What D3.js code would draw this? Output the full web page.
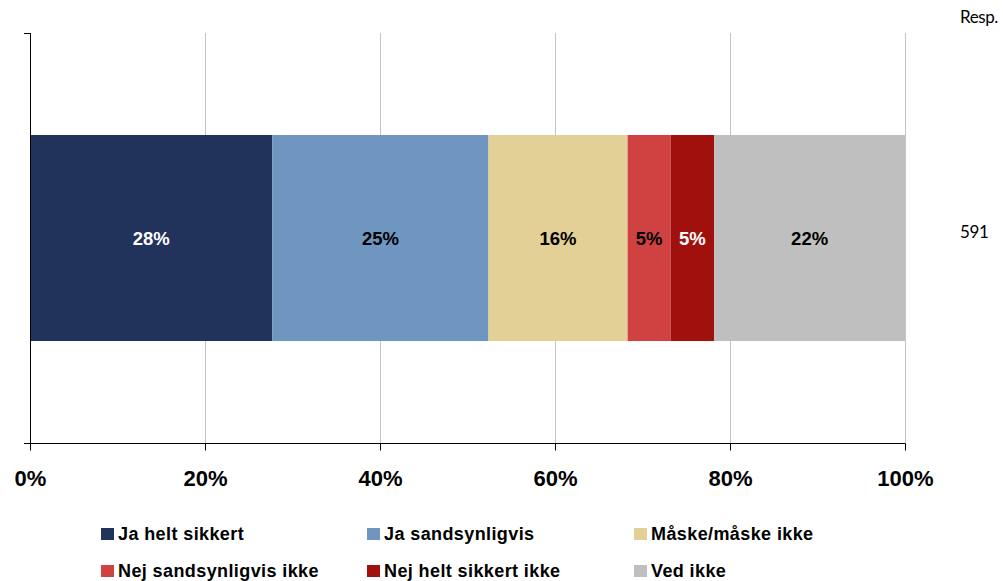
<!DOCTYPE html>
<html>
<head>
<meta charset="utf-8">
<script src="https://cdn.jsdelivr.net/npm/d3@7"></script>
<style>
  html, body { margin: 0; padding: 0; background: #fff; }
  svg { display: block; }
</style>
</head>
<body>
<svg id="chart" width="1003" height="581"></svg>
<script>
const categories = ["Ja helt sikkert", "Ja sandsynligvis", "Måske/måske ikke", "Nej sandsynligvis ikke", "Nej helt sikkert ikke", "Ved ikke"];
const values = [27.7, 24.7, 15.9, 4.9, 5.0, 21.8];
const valueLabels = ["28%", "25%", "16%", "5%", "5%", "22%"];
const colors = ["#21325B", "#6E96C0", "#E3D096", "#D04242", "#A0100C", "#BFBFBF"];
const labelColors = ["#ffffff", "#000000", "#000000", "#000000", "#ffffff", "#000000"];
const rows = [""];
const respCount = ["591"];
const xTicks = [0, 20, 40, 60, 80, 100];

const svg = d3.select("#chart");
const pLeft = 30, pRight = 905, pTop = 33, pBottom = 443;

const x = d3.scaleLinear().domain([0, 100]).range([pLeft, pRight]);
const y = d3.scaleBand().domain(rows).range([pTop, pBottom]).paddingOuter(0.495).paddingInner(0);

// gridlines
svg.append("g").selectAll("line").data(xTicks.slice(1)).join("line")
  .attr("x1", d => Math.round(x(d)) + 0.5).attr("x2", d => Math.round(x(d)) + 0.5)
  .attr("y1", pTop).attr("y2", pBottom)
  .attr("stroke", "#C4C4C4").attr("stroke-width", 1);

// stacked segments
let cum = 0;
const segs = values.map((v, i) => { const s = { i, x0: cum, x1: cum + v }; cum += v; return s; });

const g = svg.append("g");
rows.forEach(r => {
  g.selectAll("rect.seg").data(segs).join("rect").attr("class", "seg")
    .attr("x", d => x(d.x0)).attr("width", d => x(d.x1) - x(d.x0))
    .attr("y", y(r)).attr("height", y.bandwidth())
    .attr("fill", d => colors[d.i]);
  g.selectAll("text.lbl").data(segs).join("text").attr("class", "lbl")
    .attr("x", d => (x(d.x0) + x(d.x1)) / 2)
    .attr("y", y(r) + y.bandwidth() / 2)
    .attr("dy", "0.36em")
    .attr("text-anchor", "middle")
    .attr("font-family", "Liberation Sans, Arial, sans-serif")
    .attr("font-weight", "bold").attr("font-size", "18.5px")
    .attr("fill", d => labelColors[d.i])
    .text(d => valueLabels[d.i]);
  svg.append("text").attr("x", 960).attr("y", y(r) + y.bandwidth() / 2 - 6)
    .attr("dy", "0.36em")
    .attr("font-family", "Lato, sans-serif").attr("font-size", "17px").attr("fill", "#000")
    .attr("letter-spacing", "-0.3px")
    .text(respCount[0]);
});

// Resp. header
svg.append("text").attr("x", 960).attr("y", 23)
  .attr("font-family", "Lato, sans-serif").attr("font-size", "17px").attr("fill", "#000")
  .attr("letter-spacing", "-0.4px")
  .text("Resp.");

// x axis
const xAxis = d3.axisBottom(x).tickValues(xTicks).tickFormat(d => d + "%").tickSize(7).tickSizeOuter(0);
const xg = svg.append("g").attr("transform", `translate(0,${pBottom + 0.5})`).call(xAxis);
xg.select(".domain").remove();
xg.append("line").attr("x1", 24).attr("x2", pRight + 0.5).attr("y1", 0).attr("y2", 0).attr("stroke", "#000");
xg.selectAll(".tick line").attr("stroke", "#000");
xg.selectAll(".tick text")
  .attr("font-family", "Liberation Sans, Arial, sans-serif")
  .attr("font-weight", "bold").attr("font-size", "22px").attr("fill", "#000")
  .attr("y", 0).attr("dy", "42px");

// y axis (category axis with boundary ticks)
const ya = svg.append("g");
ya.append("line").attr("x1", pLeft + 0.5).attr("x2", pLeft + 0.5).attr("y1", pTop).attr("y2", pBottom).attr("stroke", "#000");
ya.selectAll("line.bt").data([pTop, pBottom]).join("line").attr("class", "bt")
  .attr("x1", 24).attr("x2", pLeft).attr("y1", d => d + 0.5).attr("y2", d => d + 0.5).attr("stroke", "#000");

// legend
const legX = [101, 367, 634];
const legBase = [540, 577];
const lg = svg.append("g");
categories.forEach((c, i) => {
  const cx = legX[i % 3], by = legBase[Math.floor(i / 3)];
  lg.append("rect").attr("x", cx).attr("y", by - 12).attr("width", 13).attr("height", 12).attr("fill", colors[i]);
  lg.append("text").attr("x", cx + 17).attr("y", by)
    .attr("font-family", "Liberation Sans, Arial, sans-serif")
    .attr("font-weight", "bold").attr("font-size", "18px").attr("fill", "#000")
    .attr("letter-spacing", "0.4px")
    .text(c);
});
</script>
</body>
</html>
